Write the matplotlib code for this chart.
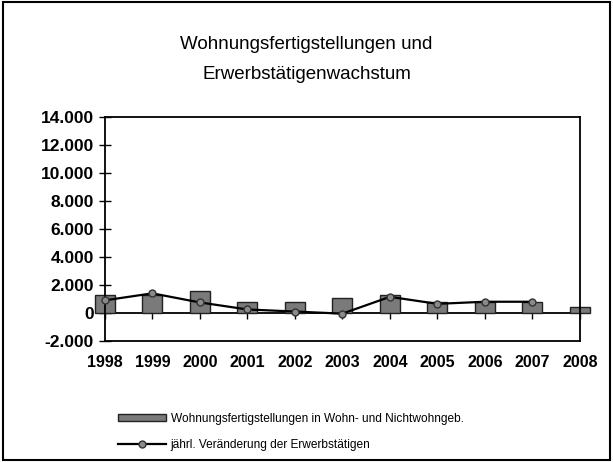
import numpy as np
import matplotlib
matplotlib.use("Agg")
import matplotlib.pyplot as plt
from matplotlib.patches import Rectangle

plt.rcParams['font.family'] = ['Liberation Sans', 'DejaVu Sans']

# data
years = ['1998', '1999', '2000', '2001', '2002', '2003', '2004', '2005', '2006', '2007', '2008']
wohnungen = [1300, 1300, 1550, 750, 750, 1050, 1300, 750, 800, 750, 400]
erwerbstaetige = [900, 1400, 750, 250, 100, -50, 1150, 650, 800, 800]
yticks = [-2000, 0, 2000, 4000, 6000, 8000, 10000, 12000, 14000]
ytick_labels = ['-2.000', '0', '2.000', '4.000', '6.000', '8.000', '10.000', '12.000', '14.000']

fig = plt.figure(figsize=(6.13, 4.62), dpi=100)
fig.patch.set_facecolor('white')
ax = fig.add_axes([0.171, 0.262, 0.775, 0.485])

x = np.arange(len(years))
bars = ax.bar(x, wohnungen, width=0.42, color='#7a7a7a', edgecolor='#222222',
              linewidth=1.0, zorder=2)
for b in bars:
    b.set_clip_on(False)
line, = ax.plot(x[:len(erwerbstaetige)], erwerbstaetige, color='black', lw=1.6, marker='o',
                markersize=5, markerfacecolor='#8a8a8a', markeredgecolor='#333333', zorder=3,
                clip_on=False)

ax.set_xlim(0, len(years) - 1)
ax.set_ylim(-2000, 14000)
ax.set_yticks(yticks)
ax.set_yticklabels(ytick_labels, fontsize=12.5, fontweight='bold')
ax.tick_params(axis='y', direction='inout', length=8, width=1, pad=4)
ax.set_xticks(x)
ax.set_xticklabels(years, fontsize=11.5, fontweight='bold')
ax.tick_params(axis='x', length=0, pad=10)
for s in ax.spines.values():
    s.set_linewidth(1.3)

# zero line with small ticks, like the category axis in the original
sec = ax.secondary_xaxis(2000 / 16000)
sec.set_xticks(x)
sec.set_xticklabels([])
sec.tick_params(axis='x', direction='out', length=4, width=1)
sec.spines['bottom'].set_linewidth(1.3)

fig.text(0.5, 0.903, 'Wohnungsfertigstellungen und', ha='center', va='center', fontsize=13.5)
fig.text(0.5, 0.838, 'Erwerbstätigenwachstum', ha='center', va='center', fontsize=13.5)

fig.legend([bars, line],
           ['Wohnungsfertigstellungen in Wohn- und Nichtwohngeb.',
            'jährl. Veränderung der Erwerbstätigen'],
           loc='lower left', bbox_to_anchor=(0.175, 0.0), frameon=False, fontsize=8.6,
           handlelength=4.0, handleheight=0.5, labelspacing=1.2, handletextpad=0.4)

fig.add_artist(Rectangle((0.005, 0.005), 0.99, 0.99, transform=fig.transFigure,
                         fill=False, edgecolor='black', linewidth=1.5))

fig.savefig('out.png', dpi=100)
